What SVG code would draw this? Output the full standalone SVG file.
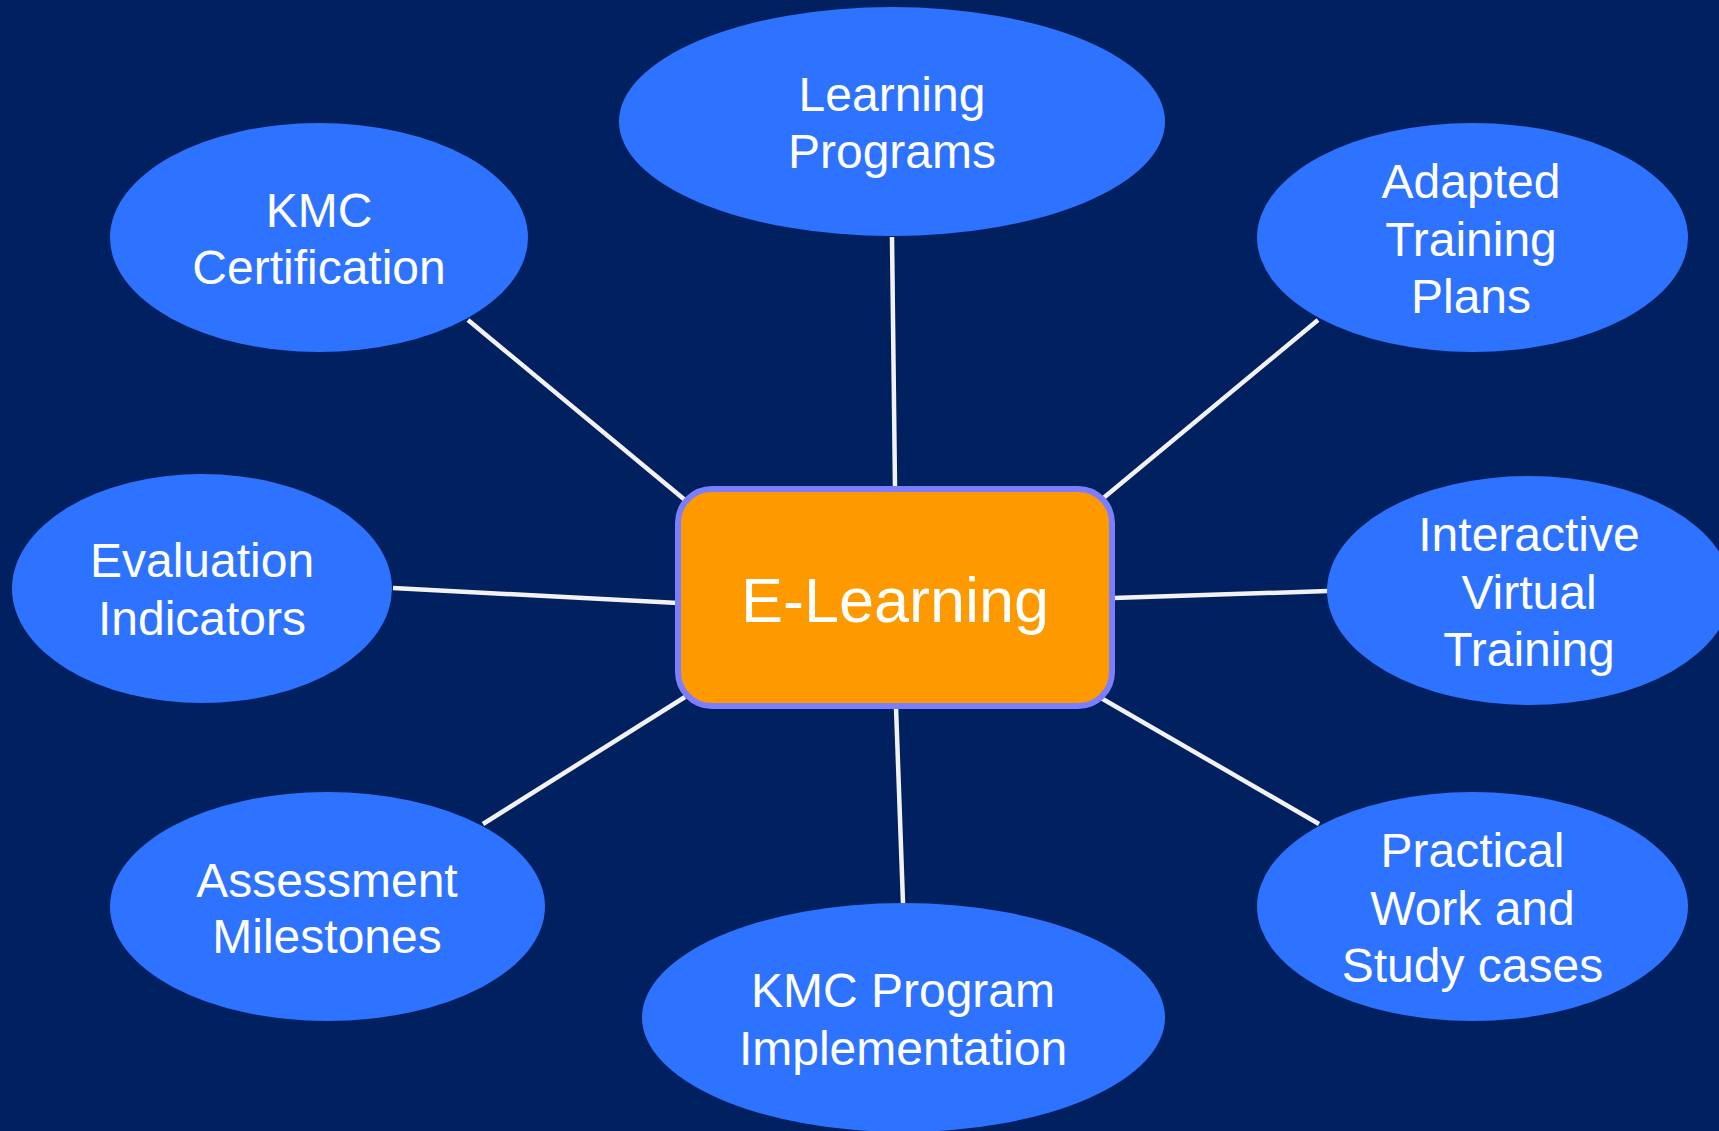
<svg xmlns="http://www.w3.org/2000/svg" width="1719" height="1131" viewBox="0 0 1719 1131">
<style>
.bg{fill:#002060}
.node ellipse{fill:#2D73FF}
.node text{font-family:"Liberation Sans",Arial,sans-serif;font-size:48px;fill:#FFFFFF;text-anchor:middle}
.center rect{fill:#FF9900;stroke:#7B7FFF;stroke-width:6}
.center text{font-family:"Liberation Sans",Arial,sans-serif;font-size:63px;fill:#FFFFFF;text-anchor:middle}
.conn line{stroke:#F2F2F2;stroke-width:4.5}
</style>
<rect class="bg" x="0" y="0" width="1719" height="1131"/>
<g id="connectors" class="conn">
<line x1="892" y1="237" x2="895" y2="487"/>
<line x1="468" y1="320" x2="685" y2="500"/>
<line x1="1318" y1="320" x2="1101" y2="500"/>
<line x1="393" y1="588" x2="678" y2="603"/>
<line x1="1113" y1="598" x2="1328" y2="591"/>
<line x1="483" y1="824" x2="685" y2="697"/>
<line x1="1101" y1="698" x2="1319" y2="824"/>
<line x1="896" y1="707" x2="903" y2="903"/>
</g>
<g id="node-learning-programs" class="node">
<ellipse cx="892" cy="121.5" rx="273" ry="114.5"/>
<text x="892" y="111">Learning</text>
<text x="892" y="168">Programs</text>
</g>
<g id="node-kmc-certification" class="node">
<ellipse cx="319" cy="237.5" rx="209" ry="114.5"/>
<text x="319" y="227">KMC</text>
<text x="319" y="284">Certification</text>
</g>
<g id="node-adapted-training-plans" class="node">
<ellipse cx="1472.5" cy="237.5" rx="215.5" ry="114.5"/>
<text x="1471" y="198">Adapted</text>
<text x="1471" y="256">Training</text>
<text x="1471" y="313">Plans</text>
</g>
<g id="node-evaluation-indicators" class="node">
<ellipse cx="202" cy="588.5" rx="190" ry="114.5"/>
<text x="202" y="577">Evaluation</text>
<text x="202" y="635">Indicators</text>
</g>
<g id="node-interactive-virtual-training" class="node">
<ellipse cx="1529" cy="590.5" rx="202" ry="114.5"/>
<text x="1529" y="551">Interactive</text>
<text x="1529" y="609">Virtual</text>
<text x="1529" y="666">Training</text>
</g>
<g id="node-assessment-milestones" class="node">
<ellipse cx="327.5" cy="906.5" rx="217.5" ry="114.5"/>
<text x="327" y="897">Assessment</text>
<text x="327" y="953">Milestones</text>
</g>
<g id="node-kmc-program-implementation" class="node">
<ellipse cx="903.5" cy="1017.5" rx="261.5" ry="114.5"/>
<text x="903" y="1007">KMC Program</text>
<text x="903" y="1065">Implementation</text>
</g>
<g id="node-practical-work" class="node">
<ellipse cx="1472.5" cy="906.5" rx="215.5" ry="114.5"/>
<text x="1472.5" y="867">Practical</text>
<text x="1472.5" y="925">Work and</text>
<text x="1472.5" y="982">Study cases</text>
</g>
<g id="node-e-learning" class="center">
<rect x="678" y="489" width="434" height="217" rx="34" ry="34"/>
<text x="895" y="622">E-Learning</text>
</g>
</svg>
